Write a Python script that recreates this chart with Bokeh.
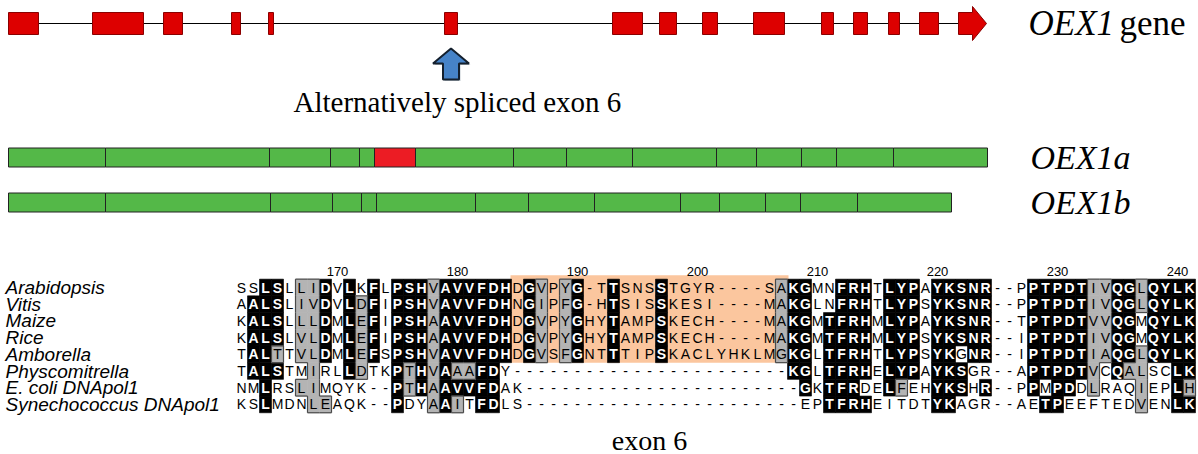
from bokeh.plotting import figure
from bokeh.models import Range1d
from bokeh.embed import file_html
from bokeh.resources import INLINE
from bokeh.core.properties import value

# ---------------- data ----------------
# OEX1 gene model (gene coordinate units)
gene_exon_start = [8, 92, 163, 231, 268, 444, 612, 659, 702, 753, 821, 853, 888, 919, 958]
gene_exon_end = [38, 143, 182, 240, 273, 457, 642, 676, 717, 784, 833, 867, 899, 938, 986]
alt_exon_index = 5          # exon 6
last_exon_head = 972        # where the arrow head of the last exon starts

# protein models: segment lengths (one per exon)
oex1a_segments = [97, 164, 61, 29, 15, 41, 98, 53, 66, 84, 40, 45, 35, 57, 94]
oex1b_segments = [97, 165, 62, 29, 15, 99, 53, 66, 86, 39, 46, 35, 57, 94]
protein_start = 8

species = ["Arabidopsis", "Vitis", "Maize", "Rice", "Amborella",
           "Physcomitrella", "E. coli DNApol1", "Synechococcus DNApol1"]
sequences = [
    "SSLSLLIDVLKFLPSHVAVVFDHDGVPYG-TTSNSSTGYR----SAKGMNFRHTLYPAYKSNR--PPTPDTIVQGLQYLK",
    "AALSLIVDVLDFIPSHVAVVFDHNGIPFG-HTSISSKESI----MAKGLNFRHTLYPSYKSNR--PPTPDTIVQGLQYLK",
    "KALSLLLDMLEFIPSHAAVVFDHDGVPYGHYTAMPSKECH----MAKGMTFRHMLYPAYKSNR--TPTPDTVVQGMQYLK",
    "KALSLVLDMLEFIPSHAAVVFDHDGVPYGHYTAMPSKECH----MAKGMTFRHMLYPSYKSNR--IPTPDTIVQGMQYLK",
    "TALTTVLDMLEFSPSHVAVVFDHDGVSFGNTTTIPSKACLYHKLMGKGLTFRHTLYPSYKGNR--IPTPDTIAQGLQYLK",
    "TALSTMIRLLDTKPTHVAAAFDY-----------------------KGLTFRHELYPAYKSGR--APTPDTVCQALSCLK",
    "NMLRSLIMQYK--PTHAAVVFDAK-----------------------GKTFRDELFEHYKSHR--PPMPDDLRAQIEPLH",
    "KSLMDNLEAQK--PDYAAITFDLS-----------------------EPTFRHEITDTYKAGR--AETPEEFTEDVENLK",
]
# B = identical (black), G = similar (grey), . = unshaded
shading = [
    "..BB.GGB.B" ".B.BBBGBBB" "BBB.BG.GB." ".B...B...." ".....GBB.." "BBB.BBB.BB" "BBB...BBBB" "BGGBBGBBBB",
    ".BBB.GGB.B" "GB.BBBGBBB" "BBB.BG.GB." ".B...B...." ".....GBB.." "BBB.BBB.BB" "BBB...BBBB" "BGGBBGBBBB",
    ".BBB.GGB.B" "GB.BBBGBBB" "BBB.BG.GB." ".B...B...." ".....GBB.B" "BBB.BBB.BB" "BBB...BBBB" "BGGBB.BBBB",
    ".BBB.GGB.B" "GB.BBBGBBB" "BBB.BG.GB." ".B...B...." ".....GBB.B" "BBB.BBB.BB" "BBB...BBBB" "BGGBB.BBBB",
    ".BBG.GGB.B" "GB.BBBGBBB" "BBB.BG.GB." ".B...B...." ".....GBB.B" "BBB.BBB.BB" ".BB...BBBB" "BGGBBGBBBB",
    ".BBB..G..B" "G..BGBGBGG" "BB........" ".........." "......BB.B" "BBB.BBB.BB" "B.....BBBB" "BG.BGG..BB",
    "..B..GG..." "...BGBGBBB" "BB........" ".........." ".......B.B" "BB..BG..BB" "B.B...B.BB" ".G...G..BG",
    "..B...GG.." "...B..GBG." "BB........" ".........." ".........B" "BBB.....BB" ".......BB." ".....G..BB",
]
tick_labels = ["170", "180", "190", "200", "210", "220", "230", "240"]
tick_first_col = 8
exon6_cols = (23, 45)
exon6_rows = 5  # rows (species) covered by exon 6 highlight

# ---------------- layout constants ----------------
col0_x, col_w = 241, 12
row0_y, row_h = 287, 16.7
gene_y, exon_half = 23, 11
W, H = 1198, 454

p = figure(width=W, height=H, x_range=Range1d(0, W), y_range=Range1d(H, 0),
           output_backend="svg", toolbar_location=None, min_border=0,
           x_axis_type=None, y_axis_type=None)
p.grid.visible = False
p.outline_line_color = None
p.background_fill_color = "white"

serif = value("Liberation Serif")
sans = value("Liberation Sans")

# ---------------- gene model ----------------
p.line([gene_exon_start[0], gene_exon_start[-1]], [gene_y, gene_y], line_color="black", line_width=1.2)
n = len(gene_exon_start)
p.quad(left=gene_exon_start[:-1], right=gene_exon_end[:-1],
       top=[gene_y - exon_half] * (n - 1), bottom=[gene_y + exon_half] * (n - 1),
       fill_color="#dd0000", line_color="#8a0000", line_width=1)
hx = last_exon_head
xs = [gene_exon_start[-1], hx, hx, gene_exon_end[-1], hx, hx, gene_exon_start[-1]]
ys = [gene_y - exon_half, gene_y - exon_half, gene_y - exon_half - 6, gene_y,
      gene_y + exon_half + 6, gene_y + exon_half, gene_y + exon_half]
p.patch(xs, ys, fill_color="#dd0000", line_color="#8a0000", line_width=1)
p.text(x=[1028], y=[gene_y], text=["OEX1"], text_font=serif, text_font_style="italic",
       text_font_size="35px", text_baseline="middle", text_align="left", text_color="black")
p.text(x=[1119], y=[gene_y], text=["gene"], text_font=serif,
       text_font_size="35px", text_baseline="middle", text_align="left", text_color="black")

# blue arrow pointing to exon 6
ax = (gene_exon_start[alt_exon_index] + gene_exon_end[alt_exon_index]) / 2
at = gene_y + exon_half + 14
axs = [ax, ax + 18, ax + 8, ax + 8, ax - 8, ax - 8, ax - 18]
ays = [at, at + 15, at + 15, at + 31, at + 31, at + 15, at + 15]
p.patch([v + 1.5 for v in axs], [v + 1.5 for v in ays], fill_color="#9aa6b2", line_color=None, fill_alpha=0.6)
p.patch(axs, ays, fill_color="#4683c8", line_color="#14202e", line_width=2)
p.text(x=[293], y=[101], text=["Alternatively spliced exon 6"], text_font=serif,
       text_font_size="29px", text_baseline="middle", text_align="left", text_color="black")

# ---------------- protein models ----------------
def draw_protein(segs, y, alt):
    left, right, colors = [], [], []
    x = protein_start
    for i, L in enumerate(segs):
        left.append(x)
        right.append(x + L)
        colors.append("#ec1c24" if i == alt else "#54b848")
        x += L
    p.quad(left=left, right=right, top=[y - 9.5] * len(segs), bottom=[y + 9.5] * len(segs),
           fill_color=colors, line_color="#222222", line_width=1)

draw_protein(oex1a_segments, 157, alt_exon_index)
draw_protein(oex1b_segments, 202, None)
p.text(x=[1030, 1030], y=[157, 202], text=["OEX1a", "OEX1b"], text_font=serif,
       text_font_style="italic", text_font_size="34px", text_baseline="middle",
       text_align="left", text_color="black")

# ---------------- alignment ----------------
def cx(c):
    return col0_x + col_w * c

def ry(r):
    return row0_y + row_h * r

# exon 6 highlight
p.quad(left=[cx(exon6_cols[0]) - col_w / 2 - 1], right=[cx(exon6_cols[1]) + col_w / 2 + 1],
       top=[ry(0) - row_h / 2 - 4], bottom=[ry(exon6_rows - 1) + row_h / 2],
       fill_color="#fbc69e", line_color=None)

bl, br, bt, bb = [], [], [], []
gl, gr, gt, gb = [], [], [], []
sx0, sy0, sx1, sy1 = [], [], [], []
tb_x, tb_y, tb_t = [], [], []
tn_x, tn_y, tn_t = [], [], []
nrows = len(sequences)

def isg(rr, cc):
    return 0 <= rr < nrows and 0 <= cc < len(shading[rr]) and shading[rr][cc] == "G"

for r in range(nrows):
    for c, ch in enumerate(sequences[r]):
        s = shading[r][c]
        x, y = cx(c), ry(r)
        L, R, T, B = x - col_w / 2, x + col_w / 2, y - row_h / 2, y + row_h / 2
        if s == "B":
            bl.append(L); br.append(R); bt.append(T); bb.append(B)
            tb_x.append(x); tb_y.append(y); tb_t.append(ch)
        else:
            tn_x.append(x); tn_y.append(y); tn_t.append(ch)
        if s == "G":
            gl.append(L); gr.append(R); gt.append(T); gb.append(B)
            if not isg(r - 1, c):
                sx0.append(L); sy0.append(T); sx1.append(R); sy1.append(T)
            if not isg(r + 1, c):
                sx0.append(L); sy0.append(B); sx1.append(R); sy1.append(B)
            if not isg(r, c - 1):
                sx0.append(L); sy0.append(T); sx1.append(L); sy1.append(B)
            if not isg(r, c + 1):
                sx0.append(R); sy0.append(T); sx1.append(R); sy1.append(B)

p.quad(left=bl, right=br, top=bt, bottom=bb, fill_color="black", line_color="black", line_width=0.6)
p.quad(left=gl, right=gr, top=gt, bottom=gb, fill_color="#b4b4b4", line_color="#b4b4b4", line_width=0.6)
p.segment(x0=sx0, y0=sy0, x1=sx1, y1=sy1, line_color="#4a4a4a", line_width=1.2)

p.text(x=tb_x, y=tb_y, text=tb_t, text_font=sans, text_font_style="bold", text_font_size="14px",
       text_align="center", text_baseline="middle", text_color="white")
p.text(x=tn_x, y=tn_y, text=tn_t, text_font=sans, text_font_size="14px",
       text_align="center", text_baseline="middle", text_color="black")

p.text(x=[5] * nrows, y=[ry(r) for r in range(nrows)], text=species, text_font=sans,
       text_font_style="italic", text_font_size="19px", text_align="left",
       text_baseline="middle", text_color="black")

p.text(x=[cx(tick_first_col + 10 * i) for i in range(len(tick_labels))], y=[ry(0) - 16] * len(tick_labels),
       text=tick_labels, text_font=sans, text_font_size="13px", text_align="center",
       text_baseline="middle", text_color="black")

p.text(x=[(cx(exon6_cols[0]) + cx(exon6_cols[1])) / 2], y=[440], text=["exon 6"], text_font=serif,
       text_font_size="28px", text_align="center", text_baseline="middle", text_color="black")

open("out.html", "w").write(file_html(p, INLINE))
